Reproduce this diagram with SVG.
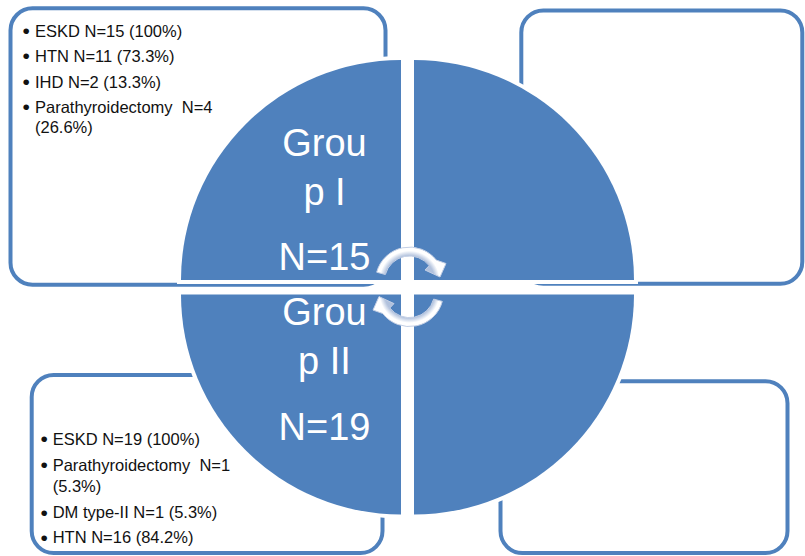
<svg xmlns="http://www.w3.org/2000/svg" width="805" height="556" viewBox="0 0 805 556">
  <style>
    .box { fill: #ffffff; stroke: #4f81bd; stroke-width: 4; }
    .quad { fill: #4f81bd; stroke: #ffffff; stroke-width: 8; paint-order: stroke; }
    .txt { font-family: "Liberation Sans", Arial, sans-serif; font-size: 16.5px; fill: #111111; white-space: pre; }
    .bul { font-family: "Liberation Sans", Arial, sans-serif; font-size: 21px; fill: #111111; }
    .big { font-family: "Liberation Sans", Arial, sans-serif; font-size: 38px; fill: #ffffff; text-anchor: middle; }
    .arrow { fill: url(#arrowGrad); stroke: #c3cfe5; stroke-width: 1; }
  </style>
  <defs>
    <radialGradient id="arrowGrad" gradientUnits="userSpaceOnUse" cx="409.5" cy="281" r="36">
      <stop offset="0" stop-color="#a9bbd9"/>
      <stop offset="0.7" stop-color="#b2c2dd"/>
      <stop offset="0.84" stop-color="#ffffff"/>
      <stop offset="1" stop-color="#ffffff"/>
    </radialGradient>
  </defs>

  <g id="box-top-left">
    <rect class="box" x="10.5" y="8.3" width="375" height="276.4" rx="22"/>
    <text class="bul" x="22.5" y="38">•</text><text class="txt" x="35" y="36.7">ESKD N=15 (100%)</text>
    <text class="bul" x="22.5" y="63">•</text><text class="txt" x="35" y="61.7">HTN N=11 (73.3%)</text>
    <text class="bul" x="22.5" y="88.8">•</text><text class="txt" x="35" y="87.5">IHD N=2 (13.3%)</text>
    <text class="bul" x="22.5" y="114.3">•</text><text class="txt" x="35" y="113">Parathyroidectomy  N=4</text>
    <text class="txt" x="35" y="133">(26.6%)</text>
  </g>

  <g id="box-top-right">
    <rect class="box" x="521.3" y="10.5" width="281" height="273.3" rx="22"/>
  </g>

  <g id="box-bottom-left">
    <rect class="box" x="31.7" y="375" width="350.8" height="178" rx="22"/>
    <text class="bul" x="40.5" y="446.3">•</text><text class="txt" x="52.7" y="445">ESKD N=19 (100%)</text>
    <text class="bul" x="40.5" y="472">•</text><text class="txt" x="52.7" y="470.7">Parathyroidectomy  N=1</text>
    <text class="txt" x="52.7" y="492">(5.3%)</text>
    <text class="bul" x="40.5" y="519.6">•</text><text class="txt" x="52.7" y="518.3">DM type-II N=1 (5.3%)</text>
    <text class="bul" x="40.5" y="544.6">•</text><text class="txt" x="52.7" y="543.3">HTN N=16 (84.2%)</text>
  </g>

  <g id="box-bottom-right">
    <rect class="box" x="500.5" y="381.2" width="287" height="171.8" rx="22"/>
  </g>

  <g id="group-1">
    <path class="quad" d="M401,280 L181,280 A220,220 0 0 1 401,60 Z"/>
    <text class="big" x="324.5" y="156">Grou</text>
    <text class="big" x="324.5" y="205">p I</text>
    <text class="big" x="324.5" y="270">N=15</text>
  </g>

  <g id="quadrant-top-right">
    <path class="quad" d="M414,280 L414,60 A220,220 0 0 1 634,280 Z"/>
  </g>

  <g id="group-2">
    <path class="quad" d="M401,294.5 L401,514.5 A220,220 0 0 1 181,294.5 Z"/>
    <text class="big" x="324.5" y="325">Grou</text>
    <text class="big" x="324.5" y="374">p II</text>
    <text class="big" x="324.5" y="440">N=19</text>
  </g>

  <g id="quadrant-bottom-right">
    <path class="quad" d="M414,294.5 L634,294.5 A220,220 0 0 1 414,514.5 Z"/>
  </g>

  <g id="connectors">
    <path id="arrow-top" class="arrow" d="M376.7,272.2 A34,34 0 0 1 436.3,260.1 L446,263.5 L440,277 L425,270 L429.2,265.6 A25,25 0 0 0 385.35,274.5 Z"/>
    <path id="arrow-bottom" class="arrow" transform="rotate(180 409.5 286.8)" d="M376.7,272.2 A34,34 0 0 1 436.3,260.1 L446,263.5 L440,277 L425,270 L429.2,265.6 A25,25 0 0 0 385.35,274.5 Z"/>
  </g>
</svg>
